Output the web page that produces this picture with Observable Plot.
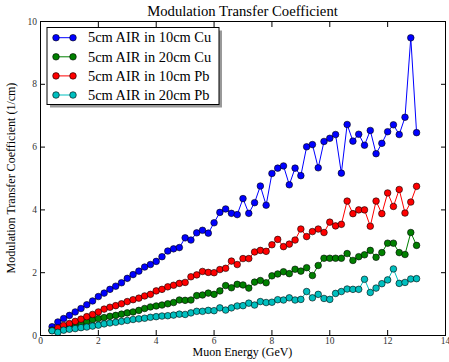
<!DOCTYPE html>
<html><head><meta charset="utf-8">
<script src="https://cdn.jsdelivr.net/npm/d3@7"></script>
<script src="https://cdn.jsdelivr.net/npm/@observablehq/plot@0.6"></script>
<style>body{margin:0;background:#fff}#chart svg{display:block}</style>
</head><body><div id="chart"></div>
<script>
const energy = [0.4,0.6,0.8,1.0,1.2,1.4,1.6,1.8,2.0,2.2,2.4,2.6,2.8,3.0,3.2,3.4,3.6,3.8,4.0,4.2,4.4,4.6,4.8,5.0,5.2,5.4,5.6,5.8,6.0,6.2,6.4,6.6,6.8,7.0,7.2,7.4,7.6,7.8,8.0,8.2,8.4,8.6,8.8,9.0,9.2,9.4,9.6,9.8,10.0,10.2,10.4,10.6,10.8,11.0,11.2,11.4,11.6,11.8,12.0,12.2,12.4,12.6,12.8,13.0];
const cu10 = [0.28,0.43,0.54,0.64,0.75,0.86,0.98,1.10,1.24,1.35,1.47,1.57,1.68,1.82,1.94,2.05,2.18,2.26,2.36,2.51,2.69,2.76,2.80,3.11,3.04,3.27,3.35,3.26,3.59,3.92,4.03,3.89,3.85,4.36,3.89,4.23,4.76,4.15,5.16,5.33,5.40,4.80,5.33,5.09,6.01,6.08,5.34,6.18,6.28,6.40,5.17,6.72,6.19,6.41,6.06,6.53,5.79,6.12,6.49,6.71,6.40,6.95,9.48,6.46];
const cu20 = [0.17,0.20,0.26,0.30,0.36,0.40,0.44,0.50,0.54,0.57,0.61,0.64,0.68,0.72,0.75,0.80,0.86,0.91,0.94,0.97,1.01,1.05,1.13,1.12,1.13,1.27,1.29,1.35,1.31,1.42,1.59,1.52,1.63,1.61,1.51,1.70,1.75,1.68,1.90,1.96,2.03,1.97,2.11,2.05,2.16,1.91,2.23,2.46,2.46,2.46,2.46,2.61,2.39,2.51,2.57,2.71,2.49,2.64,2.94,2.94,2.64,2.58,3.28,2.87];
const pb10 = [0.16,0.24,0.32,0.38,0.45,0.52,0.60,0.67,0.75,0.84,0.90,0.95,1.01,1.08,1.14,1.19,1.26,1.31,1.42,1.47,1.55,1.60,1.66,1.69,1.87,1.93,2.04,2.01,2.00,2.10,2.14,2.37,2.26,2.45,2.45,2.66,2.71,2.68,2.89,3.06,2.83,2.91,3.04,3.39,3.15,3.31,3.39,3.28,3.61,3.49,3.54,4.28,3.88,4.00,4.00,3.48,4.28,3.88,4.54,4.11,4.65,3.90,4.25,4.75];
const pb20 = [0.15,0.10,0.17,0.20,0.22,0.25,0.27,0.30,0.33,0.37,0.40,0.42,0.45,0.48,0.51,0.53,0.55,0.58,0.60,0.62,0.63,0.65,0.68,0.67,0.72,0.77,0.77,0.80,0.79,0.88,0.81,0.88,0.94,0.95,1.03,0.97,1.08,1.05,1.06,1.14,1.13,1.20,1.13,1.15,1.40,1.20,1.31,1.18,1.15,1.34,1.40,1.48,1.47,1.47,1.79,1.37,1.51,1.65,1.77,2.12,1.66,1.69,1.80,1.81];
const seriesNames = ["5cm AIR in 10cm Cu","5cm AIR in 20cm Cu","5cm AIR in 10cm Pb","5cm AIR in 20cm Pb"];
const seriesColors = ["#0000ff","#008000","#ff0000","#00bfbf"];
const xTicks = [0,2,4,6,8,10,12,14];
const yTicks = [0,2,4,6,8,10];
const titleText = "Modulation Transfer Coefficient";
const xLabel = "Muon Energy (GeV)";
const yLabel = "Modulation Transfer Coefficient (1/cm)";

const seriesValues = [cu10, cu20, pb10, pb20];
const rows = seriesValues.map((vals, s) => energy.map((e, i) => ({energy: e, value: vals[i], series: seriesNames[s]})));

const W = 449, H = 362, mL = 40, mR = 4, mT = 21, mB = 27;
const marks = [];
rows.forEach((r, s) => {
  marks.push(Plot.line(r, {x: "energy", y: "value", stroke: seriesColors[s], strokeWidth: 1}));
  marks.push(Plot.dot(r, {x: "energy", y: "value", r: 3.3, fill: seriesColors[s], stroke: "black", strokeWidth: 0.6}));
});

const chart = Plot.plot({
  width: W, height: H,
  marginLeft: mL, marginRight: mR, marginTop: mT, marginBottom: mB,
  style: {fontFamily: '"Liberation Serif", serif', fontSize: "9.5px", color: "black", background: "white", overflow: "visible"},
  x: {domain: [0, 14]},
  y: {domain: [0, 10]},
  marks: [
    ...marks,
    Plot.frame({stroke: "black", strokeWidth: 1}),
    Plot.axisX(xTicks, {anchor: "bottom", tickSize: -5, tickPadding: 7, label: null, stroke: "black", fill: "#333"}),
    Plot.axisX(xTicks, {anchor: "top", tickSize: -5, fill: "none", label: null, stroke: "black"}),
    Plot.axisY(yTicks, {anchor: "left", tickSize: -5, tickPadding: 8.5, label: null, stroke: "black", fill: "#333"}),
    Plot.axisY(yTicks, {anchor: "right", tickSize: -5, fill: "none", label: null, stroke: "black"})
  ]
});
document.getElementById("chart").appendChild(chart);

const svg = d3.select(chart);
const cx = mL + (W - mL - mR) / 2;
const cy = mT + (H - mT - mB) / 2;
svg.append("text").attr("x", cx).attr("y", 16).attr("text-anchor", "middle")
  .style("font-size", "14.7px").attr("fill", "black").text(titleText);
svg.append("text").attr("x", cx).attr("y", 356).attr("text-anchor", "middle")
  .style("font-size", "12px").attr("fill", "black").text(xLabel);
svg.append("text").attr("transform", `translate(15,${cy}) rotate(-90)`).attr("text-anchor", "middle")
  .style("font-size", "12px").attr("fill", "black").text(yLabel);

// legend
const lg = svg.append("g");
const lx = 47, ly = 27.5, lw = 172, lh = 77;
lg.append("rect").attr("x", lx + 3).attr("y", ly + 3).attr("width", lw).attr("height", lh).attr("fill", "#999");
lg.append("rect").attr("x", lx).attr("y", ly).attr("width", lw).attr("height", lh).attr("fill", "white").attr("stroke", "black").attr("stroke-width", 1);
seriesNames.forEach((name, s) => {
  const yy = 37.7 + s * 19.1;
  lg.append("line").attr("x1", 56).attr("x2", 73).attr("y1", yy).attr("y2", yy).attr("stroke", seriesColors[s]).attr("stroke-width", 1);
  [56, 73].forEach(xx => lg.append("circle").attr("cx", xx).attr("cy", yy).attr("r", 3.3)
    .attr("fill", seriesColors[s]).attr("stroke", "black").attr("stroke-width", 0.6));
  lg.append("text").attr("x", 88).attr("y", yy).attr("dy", "0.33em").attr("text-anchor", "start")
    .style("font-size", "14.4px").attr("fill", "black").text(name);
});
</script>
</body></html>
